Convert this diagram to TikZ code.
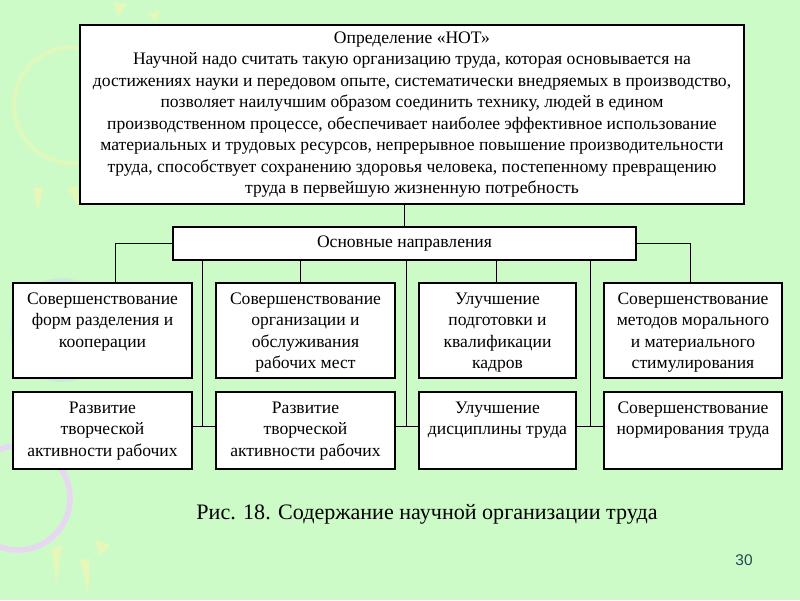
\documentclass[tikz,border=0pt]{standalone}
\usepackage{fontspec}
\setmainfont{Liberation Serif}
\newfontfamily\pagefont{Liberation Sans}
\usetikzlibrary{backgrounds}
\pgfdeclarelayer{bglayer}
\pgfdeclarelayer{edgelayer}
\pgfdeclarelayer{nodelayer}
\pgfsetlayers{bglayer,edgelayer,nodelayer,main}
\definecolor{slidegreen}{RGB}{205,251,200}
\definecolor{sunyellow}{RGB}{245,245,175}
\definecolor{bubbleblue}{RGB}{190,225,235}
\definecolor{bubblepink}{RGB}{232,215,242}
\definecolor{pagenum}{RGB}{30,75,80}
\tikzset{font=\fontsize{12.5pt}{15.3pt}\selectfont}
\tikzstyle{none}=[inner sep=0pt]
\tikzstyle{box}=[draw=black,fill=white,line width=0.9pt,inner sep=0pt]
\tikzstyle{wire}=[line width=0.7pt]
\newcommand{\boxtext}[3]{\parbox[c][#2][t]{#1}{\centering\vspace*{6.8pt}#3}}

\begin{document}
\begin{tikzpicture}[x=0.025cm,y=-0.025cm]
	\useasboundingbox (0,0) rectangle (800,600);
	\begin{pgfonlayer}{bglayer}
		\fill[slidegreen] (0,0) rectangle (800,600);
		% faint bubbles
		\draw[sunyellow, line width=3pt, opacity=0.45] (72,105) circle (58);
		\fill[sunyellow, opacity=0.6] (33,188) -- (43,188) -- (38,212) -- cycle;
		\fill[sunyellow, opacity=0.6] (67,188) -- (78,186) -- (80,208) -- cycle;
		\fill[sunyellow, opacity=0.6] (113,2) -- (127,4) -- (118,17) -- cycle;
		\fill[sunyellow, opacity=0.6] (148,14) -- (160,10) -- (156,22) -- cycle;
		\fill[bubbleblue, opacity=0.5] (62,330) circle (52);
		\draw[bubblepink, line width=4pt] (18,498) circle (52);
		\fill[sunyellow, opacity=0.6] (52,548) -- (62,546) -- (56,585) -- cycle;
		\fill[sunyellow, opacity=0.6] (80,560) -- (90,558) -- (88,595) -- cycle;
		\fill[sunyellow, opacity=0.6] (95,540) -- (110,545) -- (100,556) -- cycle;
	\end{pgfonlayer}
	\begin{pgfonlayer}{nodelayer}
		\node [style=box, minimum width=16.6cm, minimum height=4.475cm, align=center] (0) at (412,114.5) {Определение «НОТ»\\
			Научной надо считать такую организацию труда, которая основывается на\\
			достижениях науки и передовом опыте, систематически внедряемых в производство,\\
			позволяет наилучшим образом соединить технику, людей в едином\\
			производственном процессе, обеспечивает наиболее эффективное использование\\
			материальных и трудовых ресурсов, непрерывное повышение производительности\\
			труда, способствует сохранению здоровья человека, постепенному превращению\\
			труда в первейшую жизненную потребность};
		\node [style=box, minimum width=11.575cm, minimum height=0.825cm] (1) at (404.5,243.5) {Основные направления};
		\node [style=box] (2) at (102.5,330.5) {\boxtext{4.475cm}{2.375cm}{Совершенствование\\ форм разделения и\\ кооперации}};
		\node [style=box] (3) at (305.5,330.5) {\boxtext{4.475cm}{2.375cm}{Совершенствование\\ организации и\\ обслуживания\\ рабочих мест}};
		\node [style=box] (4) at (497.5,330.5) {\boxtext{3.925cm}{2.375cm}{Улучшение\\ подготовки и\\ квалификации\\ кадров}};
		\node [style=box] (5) at (693,330.5) {\boxtext{4.45cm}{2.375cm}{Совершенствование\\ методов морального\\ и материального\\ стимулирования}};
		\node [style=box] (6) at (102.5,430.5) {\boxtext{4.475cm}{1.925cm}{Развитие\\ творческой\\ активности рабочих}};
		\node [style=box] (7) at (305.5,430.5) {\boxtext{4.475cm}{1.925cm}{Развитие\\ творческой\\ активности рабочих}};
		\node [style=box] (8) at (497.5,430.5) {\boxtext{3.925cm}{1.925cm}{Улучшение\\ дисциплины труда}};
		\node [style=box] (9) at (693,430.5) {\boxtext{4.45cm}{1.925cm}{Совершенствование\\ нормирования труда}};
		\node [style=none, font=\fontsize{15.7pt}{18pt}\selectfont] (10) at (427,514) {Рис. 18. Содержание научной организации труда};
		\node [style=none, font=\pagefont\fontsize{11pt}{12pt}\selectfont, text=pagenum] (11) at (744,560) {30};
		\coordinate (c2) at (115,283);
		\coordinate (c3) at (300,283);
		\coordinate (c4) at (496,283);
		\coordinate (c5) at (690,283);
		\coordinate (j1) at (202,426);
		\coordinate (j2) at (406,426);
		\coordinate (j3) at (590,426);
	\end{pgfonlayer}
	\begin{pgfonlayer}{edgelayer}
		\draw [style=wire] (1.north) to (1.north |- 0.south);
		\draw [style=wire] (1.west) -| (c2);
		\draw [style=wire] (1.east) -| (c5);
		\draw [style=wire] (1.south -| c3) to (c3);
		\draw [style=wire] (1.south -| c4) to (c4);
		\draw [style=wire] (1.south -| j1) to (j1);
		\draw [style=wire] (1.south -| j2) to (j2);
		\draw [style=wire] (1.south -| j3) to (j3);
		\draw [style=wire] (6.east |- j1) to (7.west |- j1);
		\draw [style=wire] (7.east |- j2) to (8.west |- j2);
		\draw [style=wire] (8.east |- j3) to (9.west |- j3);
	\end{pgfonlayer}
\end{tikzpicture}
\end{document}
